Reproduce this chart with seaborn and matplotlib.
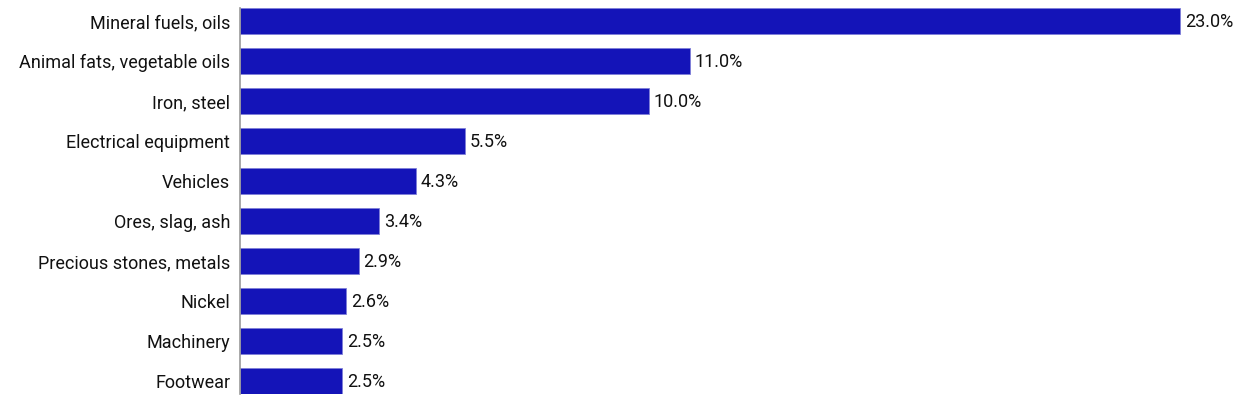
import matplotlib
matplotlib.use("Agg")
import matplotlib.pyplot as plt
import seaborn as sns
import pandas as pd

categories = ["Mineral fuels, oils", "Animal fats, vegetable oils", "Iron, steel",
              "Electrical equipment", "Vehicles", "Ores, slag, ash",
              "Precious stones, metals", "Nickel", "Machinery", "Footwear"]
values = [23.0, 11.0, 10.0, 5.5, 4.3, 3.4, 2.9, 2.6, 2.5, 2.5]

df = pd.DataFrame({"cat": categories, "val": values})

sns.set_theme(style="white")
plt.rcParams['font.family'] = ['Roboto', 'DejaVu Sans']

W, H = 1249, 418
fig = plt.figure(figsize=(W / 100, H / 100), dpi=100)
left, right = 240, 1249
top, bottom = 8, 394
ax = fig.add_axes([left / W, 1 - bottom / H, (right - left) / W, (bottom - top) / H])

color = "#1414B8"
sns.barplot(data=df, y="cat", x="val", orient="h", color=color, width=0.65,
            edgecolor="#7f7fd8", linewidth=0.6, saturation=1, ax=ax)

scale = 40.87
ax.set_xlim(0, (right - left) / scale)
ax.set_ylim(9.325, -0.325)

for i, v in enumerate(values):
    ax.annotate(f"{v:.1f}%", xy=(v, i), xytext=(3.5, -1), textcoords="offset points",
                va="center", ha="left", fontsize=13, color="#111111")

ax.set_xlabel("")
ax.set_ylabel("")
ax.set_xticks([])
ax.tick_params(axis="y", length=0, pad=7, labelsize=13, labelcolor="#111111")
for s in ["top", "right", "bottom"]:
    ax.spines[s].set_visible(False)
ax.spines["left"].set_color("#999999")
ax.spines["left"].set_linewidth(1.2)

fig.savefig("out.png", dpi=100)
